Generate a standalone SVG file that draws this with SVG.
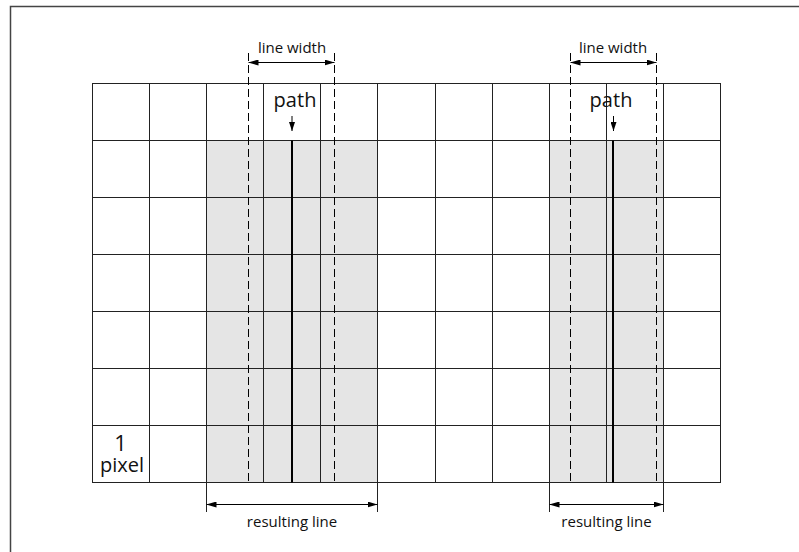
<svg xmlns="http://www.w3.org/2000/svg" width="799" height="552" viewBox="0 0 799 552">
<style>
.frame{fill:none;stroke:#444;stroke-width:1.5}
.shade{fill:#e5e5e5}
.grid{stroke:#222;stroke-width:1;fill:none}
.path{stroke:#000;stroke-width:2}
.dash{stroke:#000;stroke-width:1;stroke-dasharray:8 4}
.dim{stroke:#000;stroke-width:1;fill:none}
.sm{font-family:"Open Sans","Liberation Sans",sans-serif;font-size:15px;fill:#111;text-anchor:middle}
.lg{font-family:"Open Sans","Liberation Sans",sans-serif;font-size:20px;fill:#111;text-anchor:middle}
.one{font-family:"Open Sans","Liberation Sans",sans-serif;font-size:22px;fill:#111;text-anchor:middle}
</style>
<defs>
<marker id="ah" viewBox="0 0 10 6" refX="10" refY="3" markerWidth="10" markerHeight="6" markerUnits="userSpaceOnUse" orient="auto-start-reverse">
<path d="M0,0 L10,3 L0,6 Z" fill="#000"/>
</marker>
<marker id="ap" viewBox="0 0 6 9" refX="3" refY="9" markerWidth="6" markerHeight="9" markerUnits="userSpaceOnUse" orient="0">
<path d="M0,0 L3,9 L6,0 Z" fill="#000"/>
</marker>
</defs>
<rect class="frame" x="10.5" y="6.5" width="820" height="580"/>
<g id="shading">
<rect class="shade" x="206.5" y="140.5" width="171" height="342"/>
<rect class="shade" x="549.5" y="140.5" width="114" height="342"/>
</g>
<g id="grid" class="grid">
<rect x="92.5" y="83.5" width="628" height="399"/>
<path d="M149.5,83.5V482.5M206.5,83.5V512M263.5,83.5V482.5M320.5,83.5V482.5M377.5,83.5V512M435.5,83.5V482.5M492.5,83.5V482.5M549.5,83.5V512M606.5,83.5V482.5M663.5,83.5V512"/>
<path d="M92.5,140.5H720.5M92.5,197.5H720.5M92.5,254.5H720.5M92.5,311.5H720.5M92.5,368.5H720.5M92.5,425.5H720.5"/>
</g>
<g id="left-line">
<line class="dash" x1="248.5" y1="53" x2="248.5" y2="482.5"/>
<line class="dash" x1="334.5" y1="53" x2="334.5" y2="482.5"/>
<line class="path" x1="292" y1="140.5" x2="292" y2="482.5"/>
<text class="sm" x="292" y="53">line width</text>
<text class="lg" x="295" y="107" textLength="43" lengthAdjust="spacing">path</text>
<text class="sm" x="292" y="527">resulting line</text>
</g>
<g id="right-line">
<line class="dash" x1="570.5" y1="53" x2="570.5" y2="482.5"/>
<line class="dash" x1="656.5" y1="53" x2="656.5" y2="482.5"/>
<line class="path" x1="613" y1="140.5" x2="613" y2="482.5"/>
<text class="sm" x="613" y="53">line width</text>
<text class="lg" x="611" y="107" textLength="43" lengthAdjust="spacing">path</text>
<text class="sm" x="606.5" y="527">resulting line</text>
</g>
<g id="pixel-label">
<text class="one" x="120.5" y="451">1</text>
<text class="lg" x="122" y="472" textLength="44" lengthAdjust="spacing">pixel</text>
</g>
<g id="connectors">
<line class="dim" x1="248.5" y1="62.5" x2="334.5" y2="62.5" marker-start="url(#ah)" marker-end="url(#ah)"/>
<line class="dim" x1="570.5" y1="62.5" x2="656.5" y2="62.5" marker-start="url(#ah)" marker-end="url(#ah)"/>
<line class="dim" x1="206.5" y1="504.5" x2="377.5" y2="504.5" marker-start="url(#ah)" marker-end="url(#ah)"/>
<line class="dim" x1="549.5" y1="504.5" x2="663.5" y2="504.5" marker-start="url(#ah)" marker-end="url(#ah)"/>
<line class="dim" x1="292" y1="116" x2="292" y2="131" marker-end="url(#ap)"/>
<line class="dim" x1="613.5" y1="116" x2="613.5" y2="131" marker-end="url(#ap)"/>
</g>
</svg>
